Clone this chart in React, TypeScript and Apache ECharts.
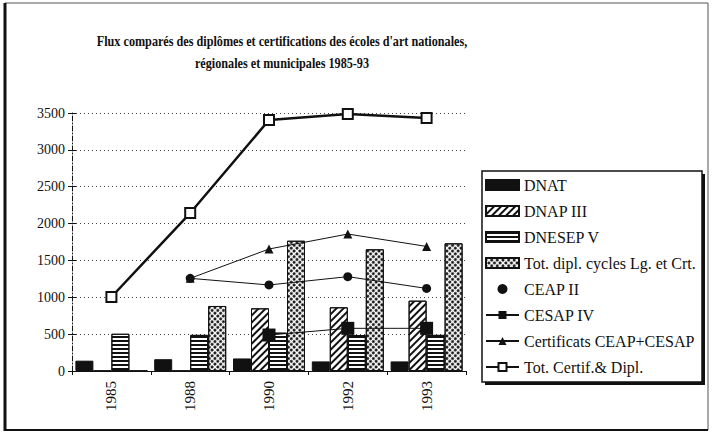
import React, { useEffect, useRef } from "react";
import * as echarts from "echarts";

const titleLines = [
  "Flux comparés des diplômes et certifications des écoles d'art nationales,",
  "régionales et municipales 1985-93",
];
const categories = ["1985", "1988", "1990", "1992", "1993"];
const yTicks = { min: 0, max: 3500, interval: 500 };

const dnat = [140, 160, 170, 130, 130];
const dnap3 = [0, 0, 850, 864, 954];
const dnesep5 = [505, 490, 520, 488, 490];
const totDiplCycles = [0, 882, 1767, 1651, 1732];
const ceap2 = [null, 1257, 1167, 1280, 1120];
const cesap4 = [null, null, 488, 579, 579];
const certifCeapCesap = [null, 1257, 1655, 1858, 1690];
const totCertifDipl = [1004, 2143, 3405, 3486, 3432];

const seriesNames = [
  "DNAT",
  "DNAP III",
  "DNESEP V",
  "Tot. dipl. cycles Lg. et Crt.",
  "CEAP II",
  "CESAP IV",
  "Certificats CEAP+CESAP",
  "Tot. Certif.& Dipl.",
];

const INK = "#111";
const SERIF = "Liberation Serif";

export default function App() {
  const ref = useRef<HTMLDivElement>(null);
  useEffect(() => {
    if (!ref.current) return;
    const chart = echarts.init(ref.current, undefined, { renderer: "svg" });
    const barBase = {
      type: "bar" as const,
      barWidth: 18,
      barGap: "0%",
      barCategoryGap: "8%",
    };
    const option: any = {
      animation: false,
      backgroundColor: "#fff",
      textStyle: { fontFamily: SERIF, color: INK },
      graphic: [
        { type: "rect", z: -10, shape: { x: 5, y: 3, width: 703, height: 427 }, style: { fill: "#fff", stroke: "#555", lineWidth: 1 } },
        { type: "line", z: -9, shape: { x1: 5, y1: 3, x2: 5, y2: 431 }, style: { stroke: INK, lineWidth: 3 } },
        { type: "line", z: -9, shape: { x1: 5, y1: 430, x2: 708, y2: 430 }, style: { stroke: INK, lineWidth: 2 } },
        { type: "rect", z: -5, shape: { x: 485, y: 174, width: 220, height: 211 }, style: { fill: INK } },
        { type: "rect", z: -4, shape: { x: 482, y: 171, width: 220, height: 211 }, style: { fill: "#fff", stroke: INK, lineWidth: 1.5 } },
        {
          type: "text",
          z: 10,
          x: 282,
          y: 30,
          scaleX: 0.87,
          style: {
            text: titleLines.join("\n"),
            textAlign: "center",
            fontFamily: SERIF,
            fontWeight: "bold",
            fontSize: 14,
            lineHeight: 22,
            fill: INK,
          },
        },
      ],
      grid: { left: 72, right: 246, top: 113, bottom: 68, containLabel: false },
      legend: {
        orient: "vertical",
        left: 485,
        top: 177,
        padding: 0,
        itemWidth: 33,
        itemHeight: 10,
        itemGap: 10,
        textStyle: { fontFamily: SERIF, fontSize: 16, color: INK },
        data: seriesNames.map((n, i) =>
          n === "CEAP II" ? { name: n, icon: "circle" } : i < 4 ? { name: n, icon: "rect" } : { name: n }
        ),
      },
      xAxis: {
        type: "category",
        data: categories,
        boundaryGap: true,
        axisLine: { lineStyle: { color: INK, width: 1.2 } },
        axisTick: { show: true, alignWithLabel: false, length: 4, lineStyle: { color: INK } },
        axisLabel: { rotate: 90, margin: 10, fontFamily: SERIF, fontSize: 15, color: INK },
        splitLine: { show: false },
      },
      yAxis: [
        {
          type: "value",
          ...yTicks,
          axisLine: { show: true, lineStyle: { color: INK, width: 1, type: [5, 2, 1, 2] } },
          axisTick: { show: true, length: 4, lineStyle: { color: INK } },
          axisLabel: { margin: 7, fontFamily: SERIF, fontSize: 14, color: INK, formatter: (v: number) => String(v) },
          splitLine: { show: true, lineStyle: { color: "#444", width: 1, type: [1, 3] } },
        },
        {
          type: "value",
          ...yTicks,
          position: "left",
          axisLine: { show: false },
          axisTick: { show: true, inside: true, length: 4, lineStyle: { color: INK } },
          axisLabel: { show: false },
          splitLine: { show: false },
        },
      ],
      series: [
        {
          ...barBase,
          name: seriesNames[0],
          data: dnat,
          itemStyle: { color: INK, borderColor: INK, borderWidth: 1 },
        },
        {
          ...barBase,
          name: seriesNames[1],
          data: dnap3,
          itemStyle: {
            color: "#fff",
            borderColor: INK,
            borderWidth: 1,
            decal: {
              symbol: "rect",
              symbolSize: 1,
              color: INK,
              dashArrayX: [1, 0],
              dashArrayY: [1.5, 3],
              rotation: -Math.PI / 4,
            },
          },
        },
        {
          ...barBase,
          name: seriesNames[2],
          data: dnesep5,
          itemStyle: {
            color: "#fff",
            borderColor: INK,
            borderWidth: 1,
            decal: {
              symbol: "rect",
              symbolSize: 1,
              color: INK,
              dashArrayX: [1, 0],
              dashArrayY: [1.5, 1.5],
              rotation: 0,
            },
          },
        },
        {
          ...barBase,
          name: seriesNames[3],
          data: totDiplCycles,
          itemStyle: {
            color: "#fff",
            borderColor: INK,
            borderWidth: 1,
            decal: {
              symbol: "circle",
              symbolSize: 1,
              color: INK,
              dashArrayX: [2.6, 0.4],
              dashArrayY: [2.6, 0.4],
              rotation: Math.PI / 4,
            },
          },
        },
        {
          type: "line",
          name: seriesNames[4],
          data: ceap2,
          symbol: "circle",
          symbolSize: 9,
          itemStyle: { color: INK },
          lineStyle: { color: INK, width: 1 },
        },
        {
          type: "line",
          name: seriesNames[5],
          data: cesap4,
          symbol: "rect",
          symbolSize: 13,
          itemStyle: { color: INK },
          lineStyle: { color: INK, width: 1 },
        },
        {
          type: "line",
          name: seriesNames[6],
          data: certifCeapCesap,
          symbol: "triangle",
          symbolSize: 9,
          itemStyle: { color: INK },
          lineStyle: { color: INK, width: 1 },
        },
        {
          type: "line",
          name: seriesNames[7],
          data: totCertifDipl,
          symbol: "emptyRect",
          symbolSize: 10,
          itemStyle: { color: INK, borderWidth: 1.5 },
          lineStyle: { color: INK, width: 2.5 },
        },
      ],
    };
    chart.setOption(option);
    return () => chart.dispose();
  }, []);
  return (
    <div
      ref={ref}
      style={{ position: "absolute", left: 0, top: 0, width: 712, height: 439 }}
    />
  );
}
